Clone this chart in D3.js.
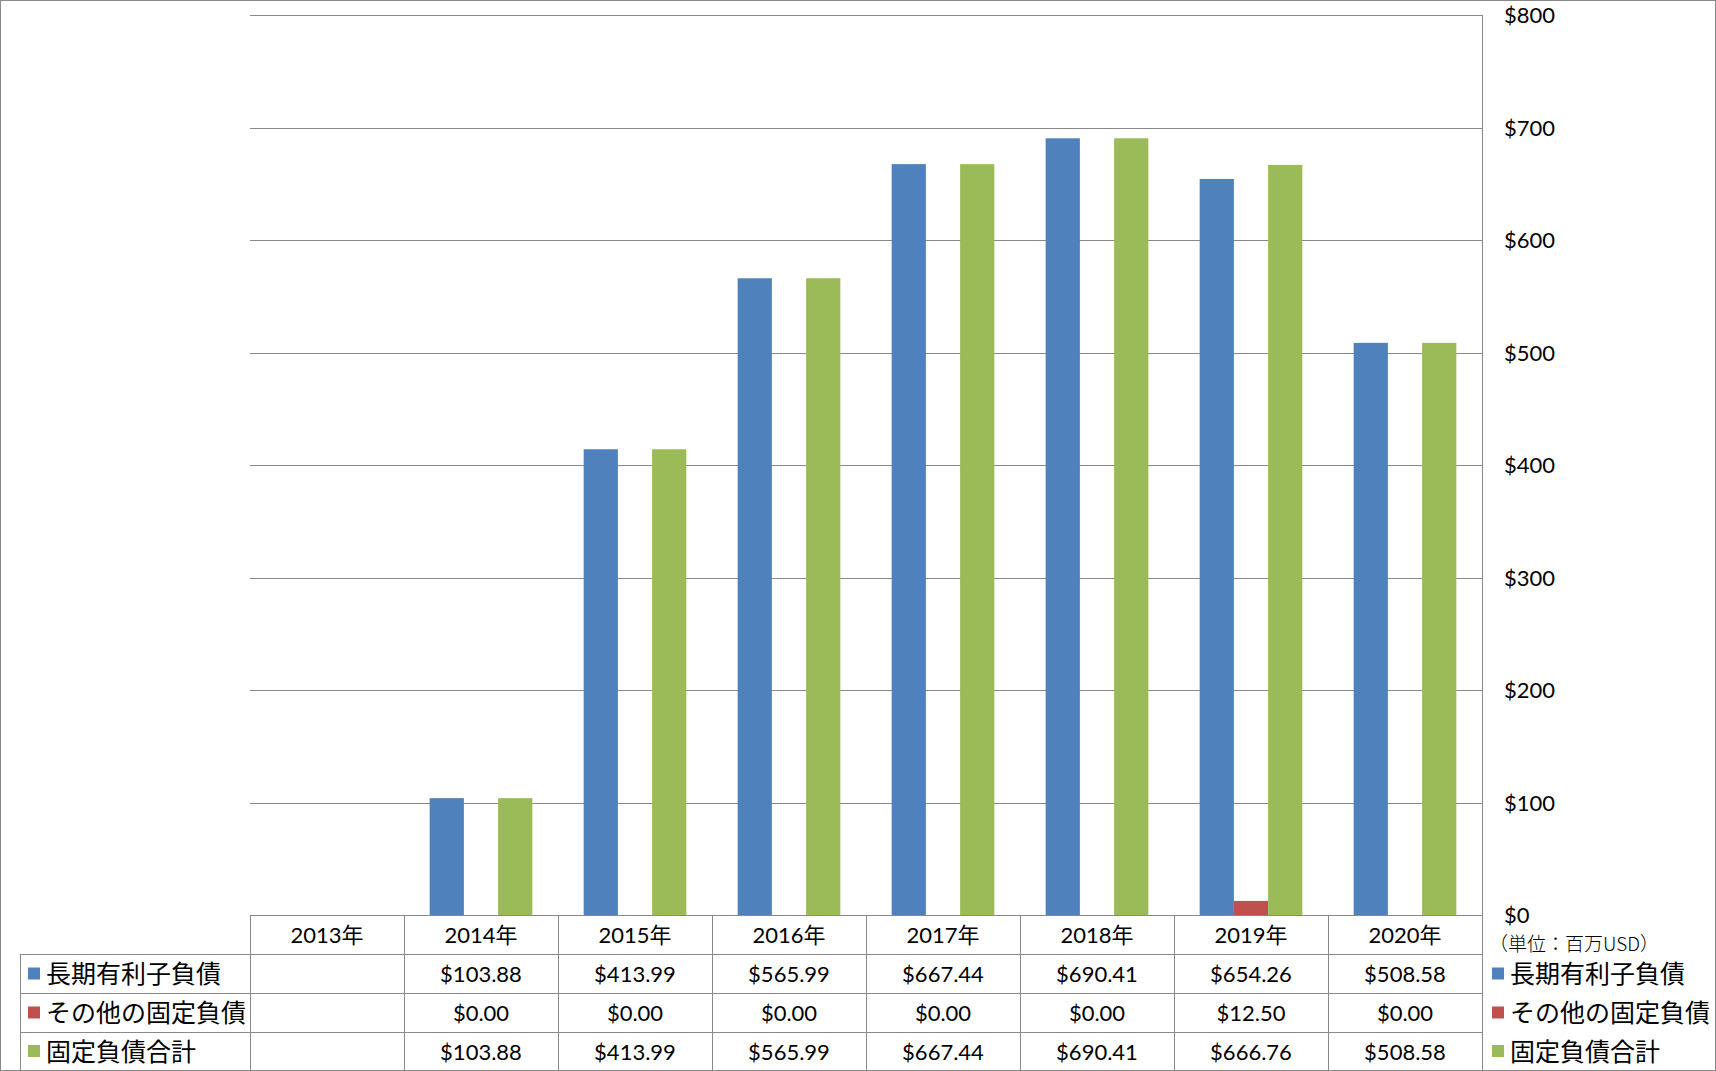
<!DOCTYPE html>
<html><head><meta charset="utf-8">
<script src="https://cdn.jsdelivr.net/npm/d3@7"></script>
<style>
html,body{margin:0;padding:0;background:#fff;}
svg{display:block;}
text{fill:#000;}
</style></head>
<body>
<svg id="chart" width="1716" height="1071"></svg>
<script>
const categories = ["2013年","2014年","2015年","2016年","2017年","2018年","2019年","2020年"];
const seriesNames = ["長期有利子負債","その他の固定負債","固定負債合計"];
const longTermDebt = [null,103.88,413.99,565.99,667.44,690.41,654.26,508.58];
const otherFixed   = [null,0.00,0.00,0.00,0.00,0.00,12.50,0.00];
const totalFixed   = [null,103.88,413.99,565.99,667.44,690.41,666.76,508.58];
const yTicks = [0,100,200,300,400,500,600,700,800];
const colors = ["#4F81BD","#C0504D","#9BBB59"];
const unitLabel = "（単位：百万USD）";

const seriesValues = [longTermDebt, otherFixed, totalFixed];

const svg = d3.select("#chart");
const W = 1716, H = 1071;
const plotL = 250, plotR = 1482, plotT = 15, plotB = 915;
const rowYs = [915, 954, 993, 1032, 1070];
const legL = 20;
const gridColor = "#898989";
const numFont = "Lato, 'Noto Sans CJK JP', sans-serif";
const cjkFont = "'Noto Sans CJK JP', sans-serif";

// outer border
svg.append("rect").attr("x",0.5).attr("y",0.5).attr("width",W-1).attr("height",H-1)
  .attr("fill","#fff").attr("stroke",gridColor).attr("stroke-width",1);

const x = d3.scaleBand().domain(categories).range([plotL, plotR]).padding(0);
const y = d3.scaleLinear().domain([0,800]).range([plotB, plotT]);
const cw = x.bandwidth();
const bw = cw/4.5;
const x1 = d3.scaleBand().domain(seriesNames).range([(cw-3*bw)/2,(cw+3*bw)/2]).padding(0);

// gridlines via axis
const yAxis = d3.axisRight(y).tickValues(yTicks).tickSize(-(plotR-plotL)).tickFormat(d => "$" + d);
const gy = svg.append("g").attr("transform",`translate(${plotR},0)`).call(yAxis);
gy.select(".domain").remove();
gy.selectAll(".tick line").attr("stroke",gridColor).attr("stroke-width",1).attr("shape-rendering","crispEdges");
gy.selectAll(".tick text").attr("x",22).attr("dy","0.35em")
  .attr("font-family",numFont).attr("font-size",22).attr("fill","#000").attr("text-anchor","start");

// right plot edge
svg.append("line").attr("x1",plotR+0.5).attr("x2",plotR+0.5).attr("y1",plotT).attr("y2",rowYs[4])
  .attr("stroke",gridColor).attr("shape-rendering","crispEdges");

// bars
seriesNames.forEach((s,si) => {
  svg.append("g").selectAll("rect")
    .data(categories.map((c,i) => ({c, v: seriesValues[si][i]})).filter(d => d.v !== null && d.v > 0))
    .join("rect")
    .attr("x", d => x(d.c) + x1(s))
    .attr("width", x1.bandwidth())
    .attr("y", d => y(d.v))
    .attr("height", d => y(0) - y(d.v))
    .attr("fill", colors[si]);
});

// table lines
const tl = svg.append("g").attr("stroke",gridColor).attr("stroke-width",1).attr("shape-rendering","crispEdges");
tl.append("line").attr("x1",plotL).attr("x2",plotR).attr("y1",rowYs[0]+0.5).attr("y2",rowYs[0]+0.5);
for (let r=1;r<=4;r++){
  tl.append("line").attr("x1",legL).attr("x2",plotR).attr("y1",rowYs[r]+0.5).attr("y2",rowYs[r]+0.5);
}
categories.forEach(c => {
  tl.append("line").attr("x1",x(c)+0.5).attr("x2",x(c)+0.5).attr("y1",rowYs[0]).attr("y2",rowYs[4]);
});
tl.append("line").attr("x1",legL+0.5).attr("x2",legL+0.5).attr("y1",rowYs[1]).attr("y2",rowYs[4]);

// header labels
svg.append("g").selectAll("text").data(categories).join("text")
  .attr("x", d => x(d) + cw/2).attr("y", (rowYs[0]+rowYs[1])/2)
  .attr("text-anchor","middle").attr("dominant-baseline","central")
  .attr("font-family",numFont).attr("font-size",22).text(d => d);

// table values
seriesNames.forEach((s,si) => {
  const yc = (rowYs[si+1]+rowYs[si+2])/2;
  svg.append("g").selectAll("text")
    .data(categories.map((c,i) => ({c, v: seriesValues[si][i]})).filter(d => d.v !== null))
    .join("text")
    .attr("x", d => x(d.c) + cw/2).attr("y", yc)
    .attr("text-anchor","middle").attr("dominant-baseline","central")
    .attr("font-family",numFont).attr("font-size",22)
    .text(d => "$" + d3.format(",.2f")(d.v));
  // left legend in table
  svg.append("rect").attr("x",28).attr("y",yc-6).attr("width",12).attr("height",12).attr("fill",colors[si]);
  svg.append("text").attr("x",46).attr("y",yc-1.5).attr("dominant-baseline","central")
    .attr("font-family",cjkFont).attr("font-size",25).text(s);
  // right legend
  svg.append("rect").attr("x",1492).attr("y",yc-6).attr("width",12).attr("height",12).attr("fill",colors[si]);
  svg.append("text").attr("x",1510).attr("y",yc-1.5).attr("dominant-baseline","central")
    .attr("font-family",cjkFont).attr("font-size",25).text(s);
});

// unit label
svg.append("text").attr("x",1489).attr("y",942).attr("dominant-baseline","central")
  .attr("font-family",cjkFont).attr("font-weight",300).attr("font-size",19).attr("fill","#000")
  .text(unitLabel);
</script>
</body></html>
